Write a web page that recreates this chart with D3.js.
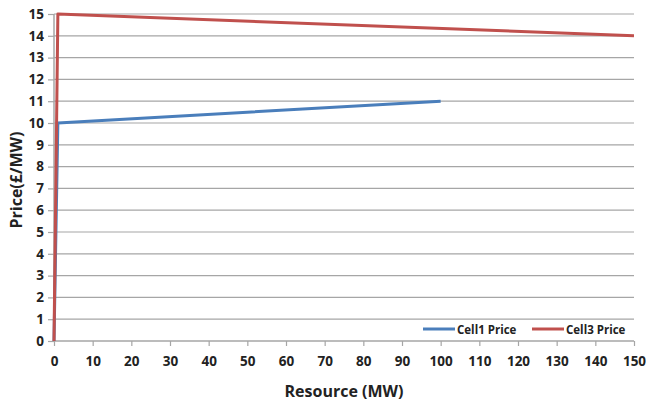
<!DOCTYPE html>
<html><head><meta charset="utf-8">
<script src="https://cdn.jsdelivr.net/npm/d3@7"></script>
<style>body{margin:0;background:#fff}svg{display:block}text{font-family:"Open Sans",sans-serif;font-weight:bold;fill:#222}</style>
</head><body>
<svg id="c" width="646" height="401"></svg>
<script>
const xTicks = d3.range(0, 151, 10);
const yTicks = d3.range(0, 16, 1);
const cell1X = [0, 1, 100];
const cell1Y = [0, 10, 11];
const cell3X = [0, 1, 150];
const cell3Y = [0, 15, 14];
const seriesNames = ["Cell1 Price", "Cell3 Price"];
const colors = ["#4a7ebb", "#c0504d"];

const svg = d3.select("#c");
const x = d3.scaleLinear().domain([0, 150]).range([54, 634]);
const y = d3.scaleLinear().domain([0, 15]).range([341, 14]);

// gridlines
svg.append("g").selectAll("line").data(yTicks.filter(d => d > 0)).join("line")
  .attr("x1", x(0)).attr("x2", x(150)).attr("y1", d => y(d)).attr("y2", d => y(d))
  .attr("stroke", "#a6a6a6").attr("stroke-width", 1.2);

// axes
const gx = svg.append("g").attr("transform", `translate(0,${y(0)})`)
  .call(d3.axisBottom(x).tickValues(xTicks).tickSize(5).tickPadding(10));
const gy = svg.append("g").attr("transform", `translate(${x(0)},0)`)
  .call(d3.axisLeft(y).tickValues(yTicks).tickSize(6).tickPadding(4));
[gx, gy].forEach(g => {
  g.select(".domain").attr("stroke", "#a6a6a6").attr("stroke-width", 1.5);
  g.selectAll(".tick line").attr("stroke", "#a6a6a6").attr("stroke-width", 1.2);
  g.selectAll("text").attr("font-size", 13.5).attr("font-family", "'Open Sans',sans-serif").attr("font-weight", "bold").attr("fill", "#1a1a1a");
});
gx.select(".domain").attr("d", `M${x(0)},0H${x(150)}`);
gy.select(".domain").attr("d", `M0,${y(0)}V${y(15)}`);

// lines
const line = d3.line().x(d => x(d[0])).y(d => y(d[1]));
const data = [d3.zip(cell1X, cell1Y), d3.zip(cell3X, cell3Y)];
svg.append("g").selectAll("path").data(data).join("path")
  .attr("d", line).attr("fill", "none")
  .attr("stroke", (d, i) => colors[i]).attr("stroke-width", 3).attr("stroke-linejoin", "round");

// axis titles
svg.append("text").attr("x", 344).attr("y", 397).attr("text-anchor", "middle")
  .attr("font-size", 16).text("Resource (MW)");
svg.append("text").attr("transform", "translate(22,180) rotate(-90)").attr("text-anchor", "middle")
  .attr("font-size", 16).text("Price(£/MW)");

// legend
const lg = svg.append("g");
const lx = [423, 532];
seriesNames.forEach((n, i) => {
  lg.append("line").attr("x1", lx[i]).attr("x2", lx[i] + 32).attr("y1", 329).attr("y2", 329)
    .attr("stroke", colors[i]).attr("stroke-width", 3);
  lg.append("text").attr("x", lx[i] + 34).attr("y", 333.5).attr("font-size", 11.5).text(n);
});
</script>
</body></html>
